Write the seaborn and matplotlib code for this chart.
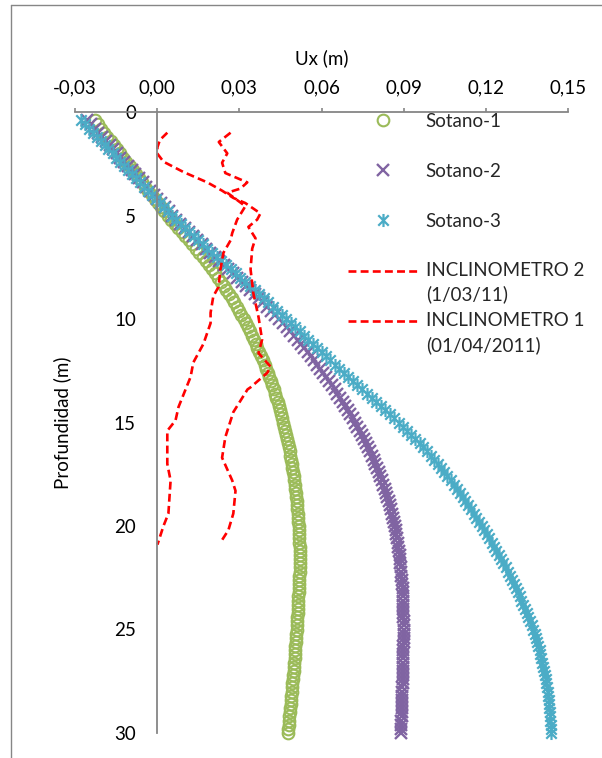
import numpy as np
import matplotlib
matplotlib.use("Agg")
import matplotlib.pyplot as plt
import seaborn as sns
from matplotlib.legend_handler import HandlerLine2D
from matplotlib.lines import Line2D
from matplotlib.path import Path

# ---------------------------------------------------------------------------
# Data
# ---------------------------------------------------------------------------
# Depth of the model nodes (m), every 0.2 m from 0.4 m to 30 m
prof_modelo = np.round(np.linspace(0.4, 30.0, 149), 1)

# Horizontal displacement Ux of the wall for each basement stage (mm)
sotano_1_mm = [
    -22.8, -21.6, -20.5, -19.3, -18.2, -17.0, -15.9, -14.7, -13.6, -12.4,
    -11.2, -10.1, -8.9, -7.8, -6.6, -5.5, -4.3, -3.2, -2.0,
    -0.8, 0.3, 1.5, 2.6, 3.8,
    5.1, 6.4, 7.7, 9.0, 10.3,
    11.6, 12.8, 14.1, 15.3, 16.6,
    17.8, 18.9, 20.0, 21.2, 22.3,
    23.3, 24.3, 25.3, 26.3, 27.3,
    28.2, 29.0, 29.9, 30.7, 31.6,
    32.3, 33.1, 33.8, 34.6, 35.3,
    36.0, 36.6, 37.3, 37.9, 38.6,
    39.2, 39.8, 40.3, 40.9, 41.5,
    42.0, 42.5, 43.0, 43.5, 44.0,
    44.4, 44.8, 45.3, 45.7, 46.1,
    46.4, 46.8, 47.1, 47.5, 47.8,
    48.1, 48.4, 48.6, 48.9, 49.2,
    49.4, 49.6, 49.9, 50.1, 50.3,
    50.5, 50.6, 50.8, 50.9, 51.1,
    51.2, 51.3, 51.5, 51.6, 51.7,
    51.8, 51.8, 51.9, 51.9, 52.0,
    52.0, 52.0, 52.0, 52.0, 52.0,
    52.0, 51.9, 51.9, 51.8, 51.8,
    51.7, 51.6, 51.6, 51.5, 51.4,
    51.3, 51.2, 51.1, 51.0, 50.9,
    50.8, 50.7, 50.6, 50.5, 50.4,
    50.3, 50.2, 50.0, 49.9, 49.8,
    49.7, 49.5, 49.4, 49.2, 49.1,
    49.0, 48.8, 48.7, 48.5, 48.4,
    48.3, 48.1, 48.0, 47.8, 47.7,
]

sotano_2_mm = [
    -25.5, -24.2, -22.8, -21.5, -20.1, -18.8, -17.4, -16.1, -14.7, -13.4,
    -12.0, -10.7, -9.3, -8.0, -6.6, -5.3, -3.9, -2.6, -1.2,
    0.1, 1.5, 2.8, 4.2, 5.5,
    7.0, 8.5, 10.0, 11.5, 13.0,
    14.6, 16.2, 17.8, 19.4, 21.0,
    22.6, 24.3, 25.9, 27.6, 29.2,
    30.8, 32.4, 34.0, 35.6, 37.2,
    38.7, 40.2, 41.6, 43.1, 44.6,
    45.9, 47.3, 48.6, 50.0, 51.3,
    52.5, 53.7, 54.9, 56.1, 57.3,
    58.4, 59.5, 60.6, 61.7, 62.8,
    63.8, 64.8, 65.8, 66.8, 67.8,
    68.7, 69.6, 70.5, 71.4, 72.3,
    73.1, 73.9, 74.7, 75.5, 76.3,
    77.0, 77.7, 78.3, 79.0, 79.7,
    80.3, 80.9, 81.4, 82.0, 82.6,
    83.1, 83.6, 84.0, 84.5, 85.0,
    85.4, 85.7, 86.1, 86.4, 86.8,
    87.1, 87.3, 87.6, 87.8, 88.1,
    88.3, 88.5, 88.6, 88.8, 89.0,
    89.1, 89.2, 89.4, 89.5, 89.6,
    89.7, 89.7, 89.8, 89.8, 89.9,
    89.9, 89.9, 90.0, 90.0, 90.0,
    90.0, 90.0, 90.0, 89.9, 89.9,
    89.9, 89.8, 89.8, 89.7, 89.7,
    89.7, 89.6, 89.6, 89.5, 89.5,
    89.5, 89.4, 89.4, 89.3, 89.3,
    89.3, 89.2, 89.2, 89.1, 89.1,
]

sotano_3_mm = [
    -27.8, -26.4, -24.9, -23.5, -22.1, -20.6, -19.2, -17.8, -16.3, -14.9,
    -13.5, -12.0, -10.6, -9.2, -7.7, -6.3, -4.9, -3.4, -2.0,
    -0.5, 1.0, 2.4, 3.9, 5.4,
    7.0, 8.6, 10.1, 11.7, 13.3,
    15.0, 16.7, 18.3, 20.0, 21.7,
    23.4, 25.2, 26.9, 28.7, 30.4,
    32.1, 33.8, 35.6, 37.3, 39.0,
    40.6, 42.3, 43.9, 45.6, 47.2,
    48.8, 50.4, 52.0, 53.6, 55.2,
    56.8, 58.4, 60.0, 61.6, 63.2,
    64.8, 66.5, 68.1, 69.8, 71.4,
    73.1, 74.8, 76.6, 78.3, 80.0,
    81.6, 83.3, 84.9, 86.6, 88.2,
    89.7, 91.2, 92.8, 94.3, 95.8,
    97.1, 98.5, 99.8, 101.2, 102.5,
    103.7, 104.8, 106.0, 107.1, 108.3,
    109.4, 110.4, 111.5, 112.5, 113.6,
    114.6, 115.6, 116.5, 117.5, 118.5,
    119.4, 120.3, 121.2, 122.1, 123.0,
    123.8, 124.7, 125.5, 126.4, 127.2,
    128.0, 128.7, 129.5, 130.2, 131.0,
    131.7, 132.4, 133.0, 133.7, 134.4,
    135.0, 135.5, 136.1, 136.7, 137.3,
    137.8, 138.2, 138.7, 139.1, 139.6,
    139.9, 140.3, 140.6, 141.0, 141.3,
    141.6, 141.8, 142.1, 142.3, 142.6,
    142.8, 142.9, 143.1, 143.2, 143.4,
    143.5, 143.6, 143.7, 143.8, 143.9,
]

# Inclinometer readings: depth (m) and displacement (mm)
incl_2_prof = [1.0, 1.35, 1.7, 2.0, 2.4, 2.9, 3.4, 3.8, 4.15, 4.4, 4.9, 5.2,
               5.55, 6.1, 6.6, 7.6, 8.75, 9.9, 11.0, 11.65, 12.3, 12.6, 13.3,
               13.4, 14.5, 15.7, 16.7, 17.8, 18.3, 19.4, 20.2, 20.8]
incl_2_mm = [3.7, 1.0, 0.1, 0.0, 2.3, 9.6, 18.3, 23.7, 27.8, 32.2, 37.7, 36.5,
             33.3, 35.9, 34.7, 34.1, 35.1, 37.0, 38.3, 37.0, 41.4, 40.2, 34.1,
             33.0, 27.8, 24.9, 23.7, 27.4, 28.6, 27.8, 26.0, 23.1]

incl_1_prof = [1.0, 1.45, 2.0, 2.45, 2.95, 3.4, 3.7, 3.9, 4.55, 5.2, 5.85,
               6.2, 6.8, 7.6, 8.45, 8.9, 9.7, 10.2, 11.2, 12.1, 12.8, 14.25,
               14.9, 15.4, 17.0, 17.8, 19.4, 20.0, 20.9]
incl_1_mm = [26.8, 22.5, 25.6, 23.7, 24.9, 32.9, 30.4, 25.6, 32.2, 29.2, 27.4,
             26.8, 24.2, 23.1, 22.4, 20.5, 19.5, 19.5, 16.9, 13.2, 12.2, 7.8,
             6.7, 3.7, 3.7, 4.9, 4.1, 2.3, 0.1]

x_ticks = [-0.03, 0.00, 0.03, 0.06, 0.09, 0.12, 0.15]
x_tick_labels = ["-0,03", "0,00", "0,03", "0,06", "0,09", "0,12", "0,15"]
y_ticks = [0, 5, 10, 15, 20, 25, 30]

# ---------------------------------------------------------------------------
# Style
# ---------------------------------------------------------------------------
sns.set_style("white")
plt.rcParams["font.family"] = ["Lato", "DejaVu Sans"]
FS = 13.5
AXIS_GREY = "#868686"
GREEN = "#9BBB59"
PURPLE = "#8064A2"
CYAN = "#4BACC6"
RED = "#FF0000"

# Excel-style star marker: an X crossed by a vertical bar
star = Path(
    [(-1, -1), (1, 1), (-1, 1), (1, -1), (0, -1.25), (0, 1.25)],
    [Path.MOVETO, Path.LINETO, Path.MOVETO, Path.LINETO, Path.MOVETO, Path.LINETO],
)

W, H = 602, 758
fig = plt.figure(figsize=(W / 100, H / 100), dpi=100)
ax = fig.add_axes([75 / W, 1 - 733 / H, 493 / W, 621 / H])


def m(v):
    return np.asarray(v) / 1000.0


series = [
    ("Sotano-1", sotano_1_mm, dict(marker="o", markersize=8.4, markeredgewidth=1.5,
                                    markerfacecolor="none", markeredgecolor=GREEN, color=GREEN)),
    ("Sotano-2", sotano_2_mm, dict(marker="x", markersize=8.3, markeredgewidth=1.7,
                                    markeredgecolor=PURPLE, color=PURPLE)),
    ("Sotano-3", sotano_3_mm, dict(marker=star, markersize=9.4, markeredgewidth=1.6,
                                    markeredgecolor=CYAN, color=CYAN)),
]
for name, vals, kw in series:
    sns.lineplot(x=m(vals), y=prof_modelo, ax=ax, sort=False, estimator=None,
                 linestyle="none", label=name, clip_on=False, legend=False, **kw)

dash = (0, (3.0, 1.6))
for name, prof, vals in [
    ("INCLINOMETRO 2\n(1/03/11)", incl_2_prof, incl_2_mm),
    ("INCLINOMETRO 1\n(01/04/2011)", incl_1_prof, incl_1_mm),
]:
    sns.lineplot(x=m(vals), y=prof, ax=ax, sort=False, estimator=None,
                 color=RED, linewidth=1.9, linestyle=dash, label=name, legend=False)

# ---------------------------------------------------------------------------
# Axes
# ---------------------------------------------------------------------------
ax.set_xlim(-0.03, 0.15)
ax.set_ylim(30, 0)
ax.set_facecolor("none")

for s in ("right", "bottom"):
    ax.spines[s].set_visible(False)
ax.spines["left"].set_position(("data", 0.0))
for s in ("left", "top"):
    ax.spines[s].set_color(AXIS_GREY)
    ax.spines[s].set_linewidth(1.3)

ax.xaxis.tick_top()
ax.set_xticks(x_ticks, x_tick_labels)
ax.set_yticks(y_ticks, [str(v) for v in y_ticks])
ax.tick_params(axis="x", which="both", direction="out", length=3.2, width=1.2,
               color=AXIS_GREY, labelsize=FS, pad=8, labelcolor="black",
               top=True, bottom=False, labeltop=True, labelbottom=False)
ax.tick_params(axis="y", which="both", direction="out", length=4.8, width=1.2,
               color=AXIS_GREY, labelsize=FS, pad=10.5, labelcolor="black")

ax.xaxis.set_label_position("top")
ax.set_xlabel("Ux (m)", fontsize=FS, color="black")
ax.xaxis.set_label_coords(0.5, 1.077)
ax.set_ylabel("Profundidad (m)", fontsize=FS, color="black")
ax.yaxis.set_label_coords(-0.008, 0.5)
ax.grid(False)


# ---------------------------------------------------------------------------
# Legends
# ---------------------------------------------------------------------------
class FirstLineHandler(HandlerLine2D):
    """Line handle drawn level with the first line of a two-line label."""

    def __init__(self, lift, **kw):
        super().__init__(**kw)
        self.lift = lift

    def create_artists(self, legend, orig_handle, xdescent, ydescent, width,
                       height, fontsize, trans):
        arts = super().create_artists(legend, orig_handle, xdescent, ydescent,
                                      width, height, fontsize, trans)
        for a in arts:
            a.set_ydata(np.asarray(a.get_ydata(), dtype=float) + self.lift)
        return arts


lines = ax.get_lines()
marker_lines = lines[:3]
incl_lines = lines[3:5]


def fig_xy(px, py):
    return (px / W, 1 - py / H)


leg1 = ax.legend(handles=marker_lines, labels=[l.get_label() for l in marker_lines],
                 loc="upper left", bbox_to_anchor=fig_xy(348, 113),
                 bbox_transform=fig.transFigure, frameon=False, fontsize=FS,
                 handlelength=3.75, handletextpad=0.4, borderpad=0,
                 borderaxespad=0, labelspacing=1.75, numpoints=1)
ax.add_artist(leg1)

leg2 = ax.legend(handles=incl_lines, labels=[l.get_label() for l in incl_lines],
                 loc="upper left", bbox_to_anchor=fig_xy(348, 262),
                 bbox_transform=fig.transFigure, frameon=False, fontsize=FS,
                 handlelength=3.75, handletextpad=0.4, borderpad=0,
                 borderaxespad=0, labelspacing=0.45,
                 handler_map={l: FirstLineHandler(8.5) for l in incl_lines})
for t in leg2.get_texts():
    t.set_linespacing(1.45)

# Chart frame
fig.add_artist(Line2D([11 / W, 11 / W], [0, 1 - 5 / H], transform=fig.transFigure,
                      color=AXIS_GREY, linewidth=1.0))
fig.add_artist(Line2D([11 / W, 1], [1 - 5 / H, 1 - 5 / H], transform=fig.transFigure,
                      color=AXIS_GREY, linewidth=1.0))

fig.savefig("out.png", dpi=100, facecolor="white")
